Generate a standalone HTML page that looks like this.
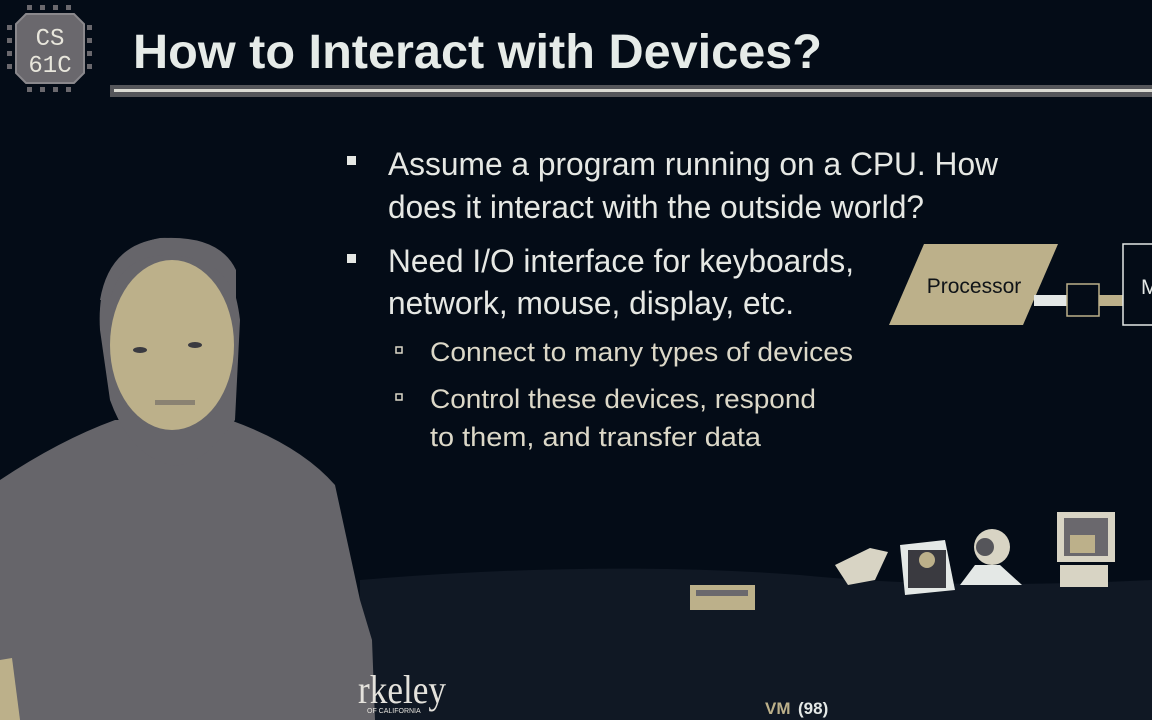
<!DOCTYPE html>
<html><head><meta charset="utf-8"><style>
html,body{margin:0;padding:0;background:#040c17;}
svg{display:block;}
</style></head><body>
<svg width="1152" height="720" viewBox="0 0 1152 720" xmlns="http://www.w3.org/2000/svg" font-family="Liberation Sans, sans-serif">
<rect width="1152" height="720" fill="#040c17"/>
<path d="M360 580 Q600 560 800 575 Q950 590 1152 580 L1152 720 L360 720 Z" fill="#101824"/>
<!-- logo -->
<g fill="#6a686d">
<rect x="27" y="5" width="5" height="5"/><rect x="40" y="5" width="5" height="5"/><rect x="53" y="5" width="5" height="5"/><rect x="66" y="5" width="5" height="5"/>
<rect x="27" y="87" width="5" height="5"/><rect x="40" y="87" width="5" height="5"/><rect x="53" y="87" width="5" height="5"/><rect x="66" y="87" width="5" height="5"/>
<rect x="7" y="25" width="5" height="5"/><rect x="7" y="38" width="5" height="5"/><rect x="7" y="51" width="5" height="5"/><rect x="7" y="64" width="5" height="5"/>
<rect x="87" y="25" width="5" height="5"/><rect x="87" y="38" width="5" height="5"/><rect x="87" y="51" width="5" height="5"/><rect x="87" y="64" width="5" height="5"/>
</g>
<path d="M26 14 L74 14 L84 24 L84 73 L74 83 L26 83 L16 73 L16 24 Z" fill="#6a686d" stroke="#8a888c" stroke-width="2"/>
<text x="50" y="45" style="font-family:'Liberation Mono',monospace" font-size="24" fill="#e8e6dc" text-anchor="middle">CS</text>
<text x="50" y="72" style="font-family:'Liberation Mono',monospace" font-size="24" fill="#e8e6dc" text-anchor="middle">61C</text>
<!-- title -->
<text x="133" y="68" font-size="48" font-weight="bold" fill="#e6ebe8" textLength="689" lengthAdjust="spacingAndGlyphs">How to Interact with Devices?</text>
<rect x="110" y="85" width="1042" height="12" fill="#55565a"/>
<rect x="114" y="89" width="1038" height="3" fill="#dcdcd4"/>
<!-- bullets -->
<g fill="#e6e8e4">
<rect x="347" y="156" width="9" height="9"/>
<rect x="347" y="254" width="9" height="9"/>
<text x="388" y="175" font-size="32" textLength="610" lengthAdjust="spacingAndGlyphs">Assume a program running on a CPU. How</text>
<text x="388" y="218" font-size="32" textLength="536" lengthAdjust="spacingAndGlyphs">does it interact with the outside world?</text>
<text x="388" y="272" font-size="32" textLength="466" lengthAdjust="spacingAndGlyphs">Need I/O interface for keyboards,</text>
<text x="388" y="314" font-size="32" textLength="406" lengthAdjust="spacingAndGlyphs">network, mouse, display, etc.</text>
</g>
<g fill="#dcd8c8">
<rect x="396" y="347" width="6" height="6" fill="none" stroke="#dcd8c8" stroke-width="1.5"/>
<rect x="396" y="394" width="6" height="6" fill="none" stroke="#dcd8c8" stroke-width="1.5"/>
<text x="430" y="361" font-size="27" textLength="423" lengthAdjust="spacingAndGlyphs">Connect to many types of devices</text>
<text x="430" y="408" font-size="27" textLength="386" lengthAdjust="spacingAndGlyphs">Control these devices, respond</text>
<text x="430" y="446" font-size="27" textLength="331" lengthAdjust="spacingAndGlyphs">to them, and transfer data</text>
</g>
<!-- diagram -->
<polygon points="924,244 1058,244 1023,325 889,325" fill="#bcb08a"/>
<text x="974" y="293" font-size="21" fill="#101418" text-anchor="middle">Processor</text>
<rect x="1034" y="295" width="34" height="11" fill="#e4e8e6"/>
<rect x="1098" y="295" width="26" height="11" fill="#bcb08a"/>
<rect x="1067" y="284" width="32" height="32" fill="#040c17" stroke="#bcb08a" stroke-width="1.5"/>
<rect x="1123" y="244" width="40" height="81" fill="#040c17" stroke="#e4e8e6" stroke-width="1.5"/>
<text x="1141" y="294" font-size="21" fill="#e4e8e6">M</text>
<!-- devices -->
<rect x="690" y="585" width="65" height="25" fill="#bcb08a"/>
<rect x="696" y="590" width="52" height="6" fill="#6a686d"/>
<polygon points="835,565 870,548 888,552 875,580 848,585" fill="#d8d4c4"/>
<polygon points="900,545 945,540 955,590 905,595" fill="#e4e8e6"/>
<rect x="908" y="550" width="38" height="38" fill="#3a3a40"/>
<circle cx="927" cy="560" r="8" fill="#bcb08a"/>
<polygon points="960,585 1022,585 1000,565 975,565" fill="#e4e8e6"/>
<circle cx="992" cy="547" r="18" fill="#d8d4c4"/>
<circle cx="985" cy="547" r="9" fill="#55555a"/>
<rect x="1057" y="512" width="58" height="50" fill="#d8d4c4"/>
<rect x="1064" y="518" width="44" height="38" fill="#6a686d"/>
<rect x="1070" y="535" width="25" height="18" fill="#bcb08a"/>
<rect x="1060" y="565" width="48" height="22" fill="#d8d4c4"/>
<text x="765" y="714" font-size="17" font-weight="bold" fill="#bcb08a">VM</text>
<text x="798" y="714" font-size="17" font-weight="bold" fill="#e4e8e6">(98)</text>
<!-- person -->
<path d="M0 480 Q60 440 115 420 L230 420 Q300 445 335 485 L360 600 L372 640 L375 720 L0 720 Z" fill="#66656a"/>
<path d="M100 330 Q95 250 160 238 Q230 235 240 320 L235 420 Q200 470 170 465 Q130 455 110 400 Z" fill="#66656a"/>
<ellipse cx="172" cy="345" rx="62" ry="85" fill="#bcb08a"/>
<path d="M110 300 Q120 255 170 255 Q225 258 236 300 L236 270 Q220 236 165 238 Q110 242 100 300 Z" fill="#66656a"/>
<ellipse cx="140" cy="350" rx="7" ry="3" fill="#3a3a40"/>
<ellipse cx="195" cy="345" rx="7" ry="3" fill="#3a3a40"/>
<rect x="155" y="400" width="40" height="5" fill="#8a8272"/>
<polygon points="0,660 12,658 20,720 0,720" fill="#bcb08a"/>
<text x="358" y="703" style="font-family:'Liberation Serif',serif" font-size="40" fill="#e4e2dc" textLength="88" lengthAdjust="spacingAndGlyphs">rkeley</text>
<text x="367" y="713" font-size="7" fill="#e4e2dc">OF CALIFORNIA</text>
</svg>
</body></html>
